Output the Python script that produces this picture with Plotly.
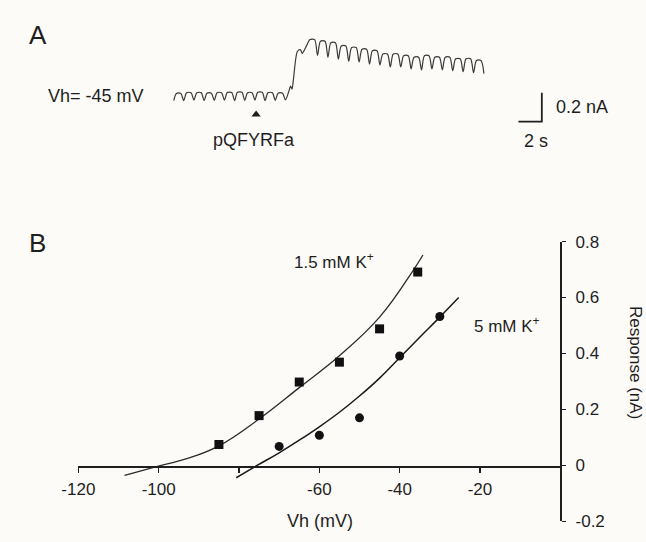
import plotly.graph_objects as go

# ---------------- data ----------------
# Panel A: current trace (nA, relative to pre-application trough), time in s
PRE_PERIOD_S = 0.87
PRE_FIRST_PEAK_S = 0.42
PRE_PEAKS_NA = [0.050, 0.055, 0.055, 0.052, 0.055, 0.056, 0.058, 0.055, 0.058, 0.055, 0.052]
PRE_TROUGHS_NA = [0.000, 0.004, 0.000, 0.002, 0.004, 0.000, 0.002, 0.004, 0.000, 0.002, 0.005]
RISE_T_S = [9.83, 10.00, 10.12, 10.25, 10.58, 10.83, 11.00, 11.29]
RISE_NA = [0.060, 0.100, 0.080, 0.153, 0.340, 0.353, 0.327, 0.367]
POST_PERIOD_S = 0.89
POST_FIRST_PEAK_S = 11.86
POST_PEAKS_NA = [0.422, 0.411, 0.400, 0.378, 0.367, 0.355, 0.345, 0.322, 0.322,
                 0.311, 0.300, 0.311, 0.300, 0.300, 0.289, 0.289, 0.278]
POST_TROUGHS_NA = [0.313, 0.300, 0.287, 0.273, 0.267, 0.253, 0.247, 0.233, 0.233,
                   0.220, 0.213, 0.220, 0.213, 0.207, 0.200, 0.193, 0.187]
APPLICATION_S = 7.05
SCALE_NA = 0.2
SCALE_S = 2.0

# Panel B: I-V relation
VH_15_MV = [-85, -75, -65, -55, -45, -35.5]
RESP_15_NA = [0.075, 0.178, 0.298, 0.369, 0.488, 0.691]
VH_5_MV = [-70, -60, -50, -40, -30]
RESP_5_NA = [0.068, 0.108, 0.170, 0.391, 0.532]
FIT_15_X = [-108.5, -101, -93, -85, -75, -65, -55, -45, -36.5, -34.2]
FIT_15_Y = [-0.036, -0.006, 0.024, 0.070, 0.166, 0.278, 0.392, 0.530, 0.700, 0.752]
FIT_5_X = [-80.7, -75.5, -70, -65, -60, -55, -50, -45, -40, -35, -30, -25.3]
FIT_5_Y = [-0.044, 0.000, 0.045, 0.090, 0.138, 0.190, 0.248, 0.312, 0.385, 0.458, 0.530, 0.600]
X_TICKS = [-120, -100, -80, -60, -40, -20]
X_TICKTEXT = ["-120", "-100", "", "-60", "-40", "-20"]
Y_TICKS = [-0.2, 0, 0.2, 0.4, 0.6, 0.8]
Y_TICKTEXT = ["-0.2", "0", "0.2", "0.4", "0.6", "0.8"]

# ---------------- layout helpers ----------------
W, H = 646, 542
FONT = "Liberation Sans, Arial, sans-serif"
INK = "#1e1e1e"
BG = "#fdfbf8"


def pxx(x):
    return x / W


def pxy(y):
    return 1 - y / H


# build trace drawing points from the read peaks / troughs
tt, ii = [0.0], [PRE_TROUGHS_NA[0]]
for k, (pk, tr) in enumerate(zip(PRE_PEAKS_NA, PRE_TROUGHS_NA)):
    c = PRE_FIRST_PEAK_S + k * PRE_PERIOD_S
    tt += [c - 0.22 * PRE_PERIOD_S, c + 0.22 * PRE_PERIOD_S, c + 0.5 * PRE_PERIOD_S]
    ii += [pk, pk, tr]
tt += RISE_T_S
ii += RISE_NA
for k, (pk, tr) in enumerate(zip(POST_PEAKS_NA, POST_TROUGHS_NA)):
    c = POST_FIRST_PEAK_S + k * POST_PERIOD_S
    tt += [c - 0.22 * POST_PERIOD_S, c + 0.22 * POST_PERIOD_S, c + 0.5 * POST_PERIOD_S]
    ii += [pk, pk, tr]

fig = go.Figure()

# panel A trace
fig.add_trace(go.Scatter(x=tt, y=ii, mode="lines", xaxis="x", yaxis="y",
                         line=dict(color="#3a3a3a", width=1.2, shape="spline", smoothing=0.8),
                         hoverinfo="skip", showlegend=False))
# application marker
fig.add_trace(go.Scatter(x=[APPLICATION_S], y=[-0.095], mode="markers", xaxis="x", yaxis="y",
                         marker=dict(symbol="triangle-up", size=8, color=INK),
                         showlegend=False))

# scale bar (panel A axes)
SB_T = 31.5
SB_I = -0.145
fig.add_trace(go.Scatter(x=[SB_T - SCALE_S, SB_T, SB_T], y=[SB_I, SB_I, SB_I + SCALE_NA],
                         mode="lines", xaxis="x", yaxis="y",
                         line=dict(color=INK, width=1.8), showlegend=False))

# panel B fits
fig.add_trace(go.Scatter(x=FIT_15_X, y=FIT_15_Y, mode="lines", xaxis="x2", yaxis="y2",
                         line=dict(color="#2a2a2a", width=1.3, shape="spline", smoothing=1.2),
                         showlegend=False))
fig.add_trace(go.Scatter(x=FIT_5_X, y=FIT_5_Y, mode="lines", xaxis="x2", yaxis="y2",
                         line=dict(color="#1a1a1a", width=1.5, shape="spline", smoothing=1.2),
                         showlegend=False))
# panel B points
fig.add_trace(go.Scatter(x=VH_15_MV, y=RESP_15_NA, mode="markers", xaxis="x2", yaxis="y2",
                         marker=dict(symbol="square", size=9, color="#111"), showlegend=False))
fig.add_trace(go.Scatter(x=VH_5_MV, y=RESP_5_NA, mode="markers", xaxis="x2", yaxis="y2",
                         marker=dict(symbol="circle", size=9, color="#111"), showlegend=False))

tickfont = dict(family=FONT, size=17, color=INK)

fig.update_layout(
    width=W, height=H,
    margin=dict(l=0, r=0, t=0, b=0),
    paper_bgcolor=BG, plot_bgcolor=BG,
    showlegend=False,
    xaxis=dict(domain=[0, 1], range=[-161 / 12, (W - 161) / 12], visible=False, fixedrange=True),
    yaxis=dict(domain=[pxy(152), 1], range=[(95 - 152) / 150, 95 / 150], visible=False,
               anchor="x", fixedrange=True),
    xaxis2=dict(domain=[pxx(63), pxx(558)], range=[-120, 0], anchor="free", position=pxy(474),
                showline=True, linecolor=INK, linewidth=1.6, ticks="outside", ticklen=5,
                tickwidth=1.3, tickcolor=INK, tickvals=X_TICKS, ticktext=X_TICKTEXT,
                tickfont=tickfont, showgrid=False, zeroline=False, ticklabelstandoff=2),
    yaxis2=dict(domain=[pxy(531), pxy(241)], range=[-0.2, 0.8], anchor="x2", side="right",
                showline=True, linecolor=INK, linewidth=1.8, ticks="outside", ticklen=4,
                tickwidth=1.3, tickcolor=INK, tickvals=Y_TICKS, ticktext=Y_TICKTEXT,
                tickfont=tickfont, showgrid=False, zeroline=False, ticklabelstandoff=6),
)

ann_font = dict(family=FONT, size=18, color=INK)
anns = [
    dict(text="A", x=pxx(10), y=pxy(27), xanchor="left", yanchor="middle",
         font=dict(family=FONT, size=26, color=INK)),
    dict(text="B", x=pxx(10), y=pxy(243), xanchor="left", yanchor="middle",
         font=dict(family=FONT, size=26, color=INK)),
    dict(text="Vh= -45 mV", x=pxx(30), y=pxy(90), xanchor="left", yanchor="middle", font=ann_font),
    dict(text="pQFYRFa", x=pxx(243), y=pxy(136), xanchor="center", yanchor="middle", font=ann_font),
    dict(text="0.2 nA", x=pxx(551), y=pxy(102), xanchor="left", yanchor="middle", font=ann_font),
    dict(text="2 s", x=pxx(533), y=pxy(137), xanchor="center", yanchor="middle", font=ann_font),
    dict(text="1.5 mM K<sup>+</sup>", x=pxx(326), y=pxy(261), xanchor="center", yanchor="middle",
         font=dict(family=FONT, size=17, color=INK)),
    dict(text="5 mM K<sup>+</sup>", x=pxx(503), y=pxy(327), xanchor="center", yanchor="middle",
         font=dict(family=FONT, size=17, color=INK)),
    dict(text="Vh (mV)", x=pxx(311), y=pxy(531), xanchor="center", yanchor="middle", font=ann_font),
    dict(text="Response (nA)", x=pxx(636), y=pxy(366), xanchor="center", yanchor="middle",
         textangle=90, font=dict(family=FONT, size=17, color=INK)),
]
for a in anns:
    a.update(xref="paper", yref="paper", showarrow=False)
fig.update_layout(annotations=anns)

fig.write_html(
    "out.html",
    config={"displayModeBar": False, "staticPlot": True},
    post_script="document.body.style.margin='0';document.body.style.padding='0';"
                "document.body.style.overflow='hidden';"
                "document.body.style.background='" + BG + "';",
)
